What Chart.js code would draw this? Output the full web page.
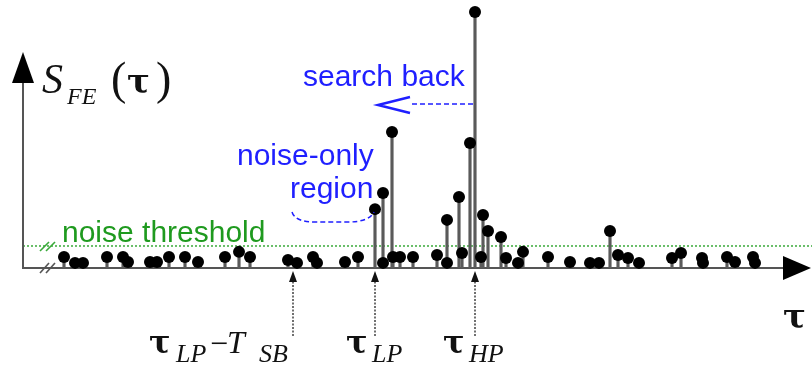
<!DOCTYPE html>
<html>
<head>
<meta charset="utf-8">
<script src="https://cdn.jsdelivr.net/npm/chart.js@4"></script>
<style>
  html, body { margin: 0; padding: 0; background: #fff; }
  #wrap { width: 812px; height: 369px; }
</style>
</head>
<body>
<div id="wrap"><canvas id="sfeChart" width="812" height="369"></canvas></div>
<script>
// lag positions of the stems and the S_FE(tau) value at each one
const tau = [41, 52, 60, 84, 100, 105, 127, 134, 146, 162, 175, 202, 216, 227, 265, 274, 290, 294, 322, 335,
             352, 360, 360, 369, 370, 377, 390, 414, 424, 424, 436, 439, 447, 452, 458, 460, 465, 478, 483, 495,
             500, 525, 547, 567, 576, 587, 595, 605, 616, 649, 658, 679, 680, 704, 712, 730, 732];
const sfe = [4.3, 2.0, 2.0, 4.3, 4.3, 2.3, 2.3, 2.3, 4.3, 4.3, 2.3, 4.3, 6.3, 4.3, 3.1, 2.0, 4.3, 2.0, 2.3, 4.3,
             23.0, 2.0, 29.3, 53.1, 4.3, 4.3, 4.3, 5.1, 2.0, 18.8, 27.7, 5.9, 48.8, 100, 4.3, 20.7, 14.5, 12.1, 3.9, 2.0,
             6.3, 4.3, 2.3, 2.0, 2.0, 14.5, 5.1, 3.9, 2.0, 3.9, 5.9, 3.9, 2.0, 4.3, 2.3, 4.3, 2.0];

const threshold = 8.6;
const tauSB = 270;   // tau_LP - T_SB
const tauLP = 352;
const tauHP = 452;

const BLUE = '#1f1fff';
const GREEN = '#1f9a1f';
const SERIF = '"Liberation Serif", "Times New Roman", serif';
const GREEK = '"DejaVu Serif", serif';
const SANS = '"Liberation Sans", Arial, sans-serif';

const points = tau.map((t, i) => ({ x: t, y: sfe[i] }));

function subText(ctx, x, y, main, sub, mainFont, subFont, subX, subDy) {
  ctx.font = mainFont;
  ctx.fillText(main, x, y);
  ctx.font = subFont;
  ctx.fillText(sub, subX, y + subDy);
}

const decor = {
  id: 'decor',
  beforeDatasetsDraw(chart) {
    const { ctx, chartArea: a, scales: { x, y } } = chart;
    const y0 = y.getPixelForValue(0);
    const yTh = y.getPixelForValue(threshold);
    ctx.save();

    // noise threshold
    ctx.strokeStyle = '#3aaa3a';
    ctx.lineWidth = 1.5;
    ctx.setLineDash([2, 2]);
    ctx.beginPath();
    ctx.moveTo(a.left, yTh);
    ctx.lineTo(a.right, yTh);
    ctx.stroke();
    ctx.setLineDash([]);

    // axes
    ctx.strokeStyle = '#555';
    ctx.lineWidth = 2;
    ctx.beginPath();
    ctx.moveTo(a.left, 80);
    ctx.lineTo(a.left, y0);
    ctx.lineTo(785, y0);
    ctx.stroke();

    ctx.fillStyle = '#000';
    ctx.beginPath();
    ctx.moveTo(a.left, 52);
    ctx.lineTo(a.left - 11, 83);
    ctx.lineTo(a.left + 11, 83);
    ctx.closePath();
    ctx.fill();
    ctx.beginPath();
    ctx.moveTo(811, y0);
    ctx.lineTo(783, y0 - 12);
    ctx.lineTo(783, y0 + 12);
    ctx.closePath();
    ctx.fill();

    // break marks
    ctx.lineWidth = 1.6;
    ctx.strokeStyle = '#3aaa3a';
    [[40, yTh + 5], [46, yTh + 5]].forEach(([bx, by]) => {
      ctx.beginPath(); ctx.moveTo(bx, by); ctx.lineTo(bx + 9, by - 9); ctx.stroke();
    });
    ctx.strokeStyle = '#555';
    [[40, y0 + 5], [46, y0 + 5]].forEach(([bx, by]) => {
      ctx.beginPath(); ctx.moveTo(bx, by); ctx.lineTo(bx + 9, by - 10); ctx.stroke();
    });
    ctx.restore();
  },
  afterDatasetsDraw(chart) {
    const { ctx, scales: { x, y } } = chart;
    const y0 = y.getPixelForValue(0);
    ctx.save();
    ctx.fillStyle = '#111';
    ctx.textBaseline = 'alphabetic';

    // y axis label S_FE(tau)
    ctx.font = 'italic 42px ' + SERIF;
    ctx.fillText('S', 42, 93);
    ctx.font = 'italic 24px ' + SERIF;
    ctx.fillText('FE', 67, 104);
    ctx.font = '46px ' + SERIF;
    ctx.fillText('(', 111, 94);
    ctx.fillText(')', 156, 94);
    ctx.font = 'bold 34px ' + GREEK;
    ctx.fillText('\u03c4', 127, 93);

    // x axis label
    ctx.font = 'bold 34px ' + GREEK;
    ctx.fillText('\u03c4', 783, 328);

    // marker arrows under the axis
    [tauSB, tauLP, tauHP].forEach(v => {
      const px = x.getPixelForValue(v);
      ctx.strokeStyle = '#333';
      ctx.lineWidth = 1.4;
      ctx.setLineDash([2, 1.5]);
      ctx.beginPath();
      ctx.moveTo(px, 336);
      ctx.lineTo(px, 281);
      ctx.stroke();
      ctx.setLineDash([]);
      ctx.fillStyle = '#111';
      ctx.beginPath();
      ctx.moveTo(px, y0 + 3);
      ctx.lineTo(px - 4, y0 + 14);
      ctx.lineTo(px + 4, y0 + 14);
      ctx.closePath();
      ctx.fill();
    });

    const tauF = 'bold 32px ' + GREEK;
    const subF = 'italic 26px ' + SERIF;
    ctx.fillStyle = '#111';
    subText(ctx, 149, 353, '\u03c4', 'LP', tauF, subF, 176, 9);
    ctx.font = '32px ' + SERIF;
    ctx.fillText('\u2212', 210, 354);
    subText(ctx, 227, 353, 'T', 'SB', 'italic 32px ' + SERIF, subF, 259, 9);
    subText(ctx, 346, 353, '\u03c4', 'LP', tauF, subF, 372, 9);
    subText(ctx, 443, 353, '\u03c4', 'HP', tauF, subF, 469, 9);

    // annotations
    ctx.fillStyle = GREEN;
    ctx.font = '30px ' + SANS;
    ctx.fillText('noise threshold', 62, 242);

    ctx.fillStyle = BLUE;
    ctx.fillText('search back', 303, 86);
    ctx.fillText('noise-only', 237, 165);
    ctx.fillText('region', 290, 198);

    ctx.strokeStyle = BLUE;
    ctx.lineWidth = 1.5;
    ctx.setLineDash([5, 3]);
    ctx.beginPath();
    ctx.moveTo(x.getPixelForValue(tauHP) - 2, 104);
    ctx.lineTo(411, 104);
    ctx.stroke();

    ctx.beginPath();
    ctx.moveTo(292, 212);
    ctx.quadraticCurveTo(295, 222, 315, 222);
    ctx.lineTo(348, 222);
    ctx.quadraticCurveTo(369, 222, 374, 212);
    ctx.stroke();
    ctx.setLineDash([]);

    ctx.lineWidth = 2.5;
    ctx.beginPath();
    ctx.moveTo(410, 97);
    ctx.lineTo(378, 105);
    ctx.lineTo(410, 113);
    ctx.stroke();
    ctx.restore();
  }
};

new Chart(document.getElementById('sfeChart'), {
  type: 'bar',
  data: {
    datasets: [
      {
        type: 'line',
        label: 'tops',
        data: points,
        showLine: false,
        pointRadius: 6,
        pointBackgroundColor: '#000',
        pointBorderWidth: 0,
        clip: false,
        order: 0
      },
      {
        type: 'bar',
        label: 'stems',
        data: points,
        barThickness: 2.5,
        backgroundColor: '#5a5a5a',
        borderWidth: 0,
        order: 1
      }
    ]
  },
  options: {
    responsive: false,
    animation: false,
    layout: { autoPadding: false, padding: { left: 23, right: 0, top: 0, bottom: 101 } },
    plugins: { legend: { display: false }, tooltip: { enabled: false } },
    scales: {
      x: { type: 'linear', min: 0, max: 789, offset: false, display: false },
      y: { min: 0, max: 104.7, display: false }
    }
  },
  plugins: [decor]
});
</script>
</body>
</html>
